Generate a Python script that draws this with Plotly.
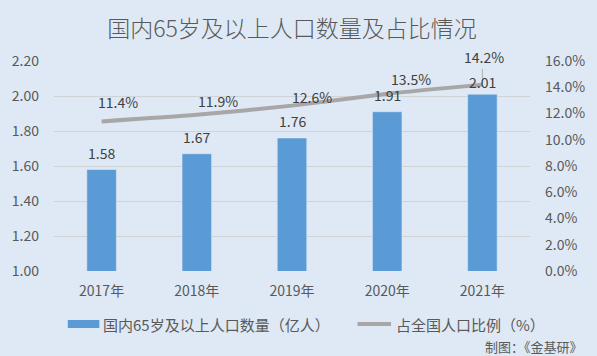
import plotly.graph_objects as go

# ---- data ----
years = ["2017年", "2018年", "2019年", "2020年", "2021年"]
population = [1.58, 1.67, 1.76, 1.91, 2.01]          # 亿人
share = [11.4, 11.9, 12.6, 13.5, 14.2]                # %
left_ticks = [1.00, 1.20, 1.40, 1.60, 1.80, 2.00, 2.20]
right_ticks = [0, 2, 4, 6, 8, 10, 12, 14, 16]

# ---- styles ----
BG = "#dee9f5"
BAR = "#5b9bd5"
LINE = "#a8a6a6"
TXT = "#595959"
LBL = "#404040"
FONT = "Noto Sans CJK SC"
FS = 14
bar_lbl_dy = [5, 5, 5, 5, 0]
line_lbl_dx = [16, 21, 20, 24, 2]
line_lbl_dy = [7, 2, -3, 3, 16]

fig = go.Figure()
fig.add_trace(go.Bar(x=years, y=population, marker_color=BAR, width=0.31,
                     name="国内65岁及以上人口数量（亿人）", hoverinfo="skip"))
fig.add_trace(go.Scatter(x=years, y=share, yaxis="y2", mode="lines",
                         line=dict(color=LINE, width=4, shape="spline", smoothing=0.6),
                         name="占全国人口比例（%）", hoverinfo="skip"))

ann = []
for i, (yr, v) in enumerate(zip(years, population)):
    ann.append(dict(x=yr, y=v, xref="x", yref="y", text=f"{v:.2f}", showarrow=False,
                    yanchor="bottom", yshift=bar_lbl_dy[i],
                    font=dict(family=FONT, size=FS, color=LBL)))
for i, (yr, v) in enumerate(zip(years, share)):
    ann.append(dict(x=yr, y=v, xref="x", yref="y2", text=f"{v:.1f}%", showarrow=False,
                    yanchor="bottom", yshift=line_lbl_dy[i], xshift=line_lbl_dx[i],
                    font=dict(family=FONT, size=FS, color=LBL)))

# custom legend
PW, PH, L0, T0 = 483, 210, 50, 61
leg_y = -(324 - (T0 + PH)) / PH
ann.append(dict(x=(98 - L0) / PW, y=leg_y, xref="paper", yref="paper",
                text="国内65岁及以上人口数量（亿人）",
                showarrow=False, xanchor="left", yanchor="middle",
                font=dict(family=FONT, size=15, color=TXT)))
ann.append(dict(x=(395 - L0) / PW, y=leg_y, xref="paper", yref="paper", text="占全国人口比例（%）",
                showarrow=False, xanchor="left", yanchor="middle",
                font=dict(family=FONT, size=15, color=TXT)))
ann.append(dict(x=(589 - L0) / PW, y=-(346 - (T0 + PH)) / PH, xref="paper", yref="paper",
                text="制图：《金基研》",
                showarrow=False, xanchor="right", yanchor="middle",
                font=dict(family=FONT, size=13, color=TXT)))

shapes = [
    dict(type="rect", xref="paper", yref="paper", x0=(64 - L0) / PW, x1=(96 - L0) / PW,
         y0=leg_y - 4 / PH, y1=leg_y + 4 / PH, fillcolor=BAR, line=dict(width=0)),
    dict(type="line", xref="paper", yref="paper", x0=(358 - L0) / PW, x1=(392 - L0) / PW,
         y0=leg_y, y1=leg_y, line=dict(color=LINE, width=4)),
    # leader line for the last label
    dict(type="line", xref="x", yref="y2", x0=years[-1], x1=years[-1], y0=share[-1] + 0.2,
         y1=share[-1] + 1.2, line=dict(color="#b0b0b0", width=1)),
]

fig.update_layout(
    width=597, height=356,
    margin=dict(l=L0, r=597 - L0 - PW, t=T0, b=356 - T0 - PH),
    paper_bgcolor=BG, plot_bgcolor=BG,
    showlegend=False,
    title=dict(text="国内65岁及以上人口数量及占比情况", x=0.5, xref="paper", xanchor="center",
               y=1 - 29 / 356, yanchor="middle",
               font=dict(family=FONT, size=23, color=TXT, weight=300)),
    font=dict(family=FONT, size=FS, color=TXT),
    xaxis=dict(showgrid=False, showline=False, ticks="", ticklabelstandoff=10,
               tickfont=dict(size=FS, color=TXT)),
    yaxis=dict(range=[1.0, 2.2], tickvals=left_ticks, ticktext=[f"{t:.2f}" for t in left_ticks],
               showgrid=True, gridcolor="#d0d3d6", gridwidth=1, zeroline=False,
               showline=False, ticks="", ticklabelstandoff=14,
               tickfont=dict(size=FS, color=TXT)),
    yaxis2=dict(range=[0, 16], overlaying="y", side="right", tickvals=right_ticks,
                ticktext=[f"{t:.1f}%" for t in right_ticks], showgrid=False, zeroline=False,
                showline=False, ticks="", ticklabelstandoff=14,
                tickfont=dict(size=FS, color=TXT)),
    annotations=ann,
    shapes=shapes,
)

fig.write_html("out.html", config={"displayModeBar": False},
               post_script="document.body.style.margin='0';document.body.style.background='%s';" % BG)
